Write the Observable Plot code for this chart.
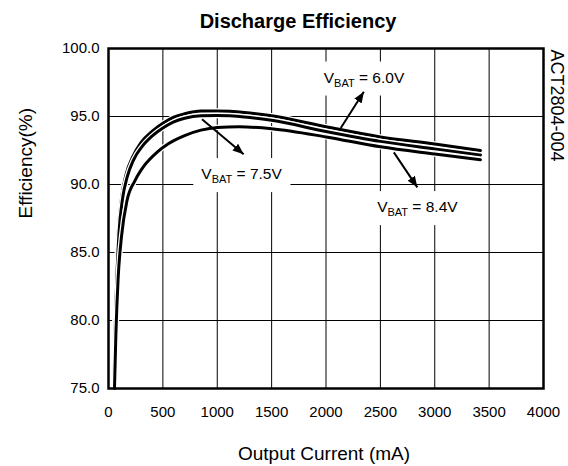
<!DOCTYPE html>
<html><head><meta charset="utf-8">
<script src="https://cdn.jsdelivr.net/npm/d3@7"></script>
<script src="https://cdn.jsdelivr.net/npm/@observablehq/plot@0.6"></script>
<style>body{margin:0;background:#fff;}</style>
</head><body><div id="chart"></div>
<script>
// ---- data ----
const title = "Discharge Efficiency";
const xLabel = "Output Current (mA)";
const yLabel = "Efficiency(%)";
const docId = "ACT2804-004";
const xTicks = [0, 500, 1000, 1500, 2000, 2500, 3000, 3500, 4000];
const yTicks = [75, 80, 85, 90, 95, 100];

const series = ["6.0V", "7.5V", "8.4V"];
const current60 = [45, 55, 70, 90, 120, 160, 220, 300, 400, 500, 600, 700, 850, 1000, 1250, 1500, 2000, 2500, 3000, 3420];
const eff60     = [75, 79, 83, 86.5, 89, 90.7, 92, 93.1, 93.9, 94.5, 94.95, 95.2, 95.4, 95.4, 95.3, 95.05, 94.25, 93.5, 92.98, 92.5];
const current75 = [50, 60, 76, 97, 130, 170, 230, 310, 400, 500, 600, 700, 850, 1000, 1250, 1500, 2000, 2500, 3000, 3420];
const eff75     = [75, 79, 83, 86.5, 89, 90.5, 91.8, 92.8, 93.55, 94.15, 94.6, 94.87, 95.05, 95.07, 94.97, 94.72, 93.9, 93.17, 92.62, 92.17];
const current84 = [55, 68, 88, 120, 170, 245, 330, 450, 550, 700, 850, 1000, 1200, 1500, 2000, 2500, 3000, 3420];
const eff84     = [75, 79, 83, 86.2, 88.8, 90.3, 91.4, 92.4, 93.0, 93.6, 94.0, 94.2, 94.25, 94.1, 93.5, 92.77, 92.24, 91.82];

// annotations
const labelNames = ["6.0V", "7.5V", "8.4V"];
const labelX = [2354, 1228, 2845];
const labelY = [97.86, 90.76, 88.33];
const arrowX1 = [2136, 860, 2624];
const arrowY1 = [94.15, 94.8, 92.36];
const arrowX2 = [2348, 1243, 2840];
const arrowY2 = [96.82, 92.23, 89.79];

// ---- build tables ----
const curves = [[current60, eff60], [current75, eff75], [current84, eff84]];
const rows = curves.map(([xs, ys], i) => xs.map((x, j) => ({series: series[i], x, y: ys[j]})));
const arrows = arrowX1.map((x1, i) => ({x1, y1: arrowY1[i], x2: arrowX2[i], y2: arrowY2[i]}));

const font = "'Liberation Sans', Arial, Helvetica, sans-serif";

const lineMarks = [];
rows.forEach(r => {
  lineMarks.push(Plot.line(r, {x: "x", y: "y", stroke: "white", strokeWidth: 5.5, curve: "monotone-x"}));
  lineMarks.push(Plot.line(r, {x: "x", y: "y", stroke: "black", strokeWidth: 3, curve: "monotone-x"}));
});

const plot = Plot.plot({
  width: 568, height: 466,
  marginLeft: 108, marginRight: 25, marginTop: 48, marginBottom: 78,
  style: {fontFamily: font, fontSize: "15px", color: "black", background: "white"},
  x: {domain: [0, 4000], ticks: xTicks, tickSize: 0, tickPadding: 18, label: null, tickFormat: d3.format("d")},
  y: {domain: [75, 100], ticks: yTicks, tickSize: 0, tickPadding: 9, label: null, tickFormat: d3.format(".1f")},
  marks: [
    Plot.ruleX(xTicks, {stroke: "black", strokeWidth: 1}),
    Plot.ruleY(yTicks, {stroke: "black", strokeWidth: 1}),
    ...lineMarks,
    Plot.link(arrows, {x1: "x1", y1: "y1", x2: "x2", y2: "y2", stroke: "black", strokeWidth: 2}),
    Plot.frame({stroke: "black", strokeWidth: 2.5}),
    Plot.text([title], {frameAnchor: "top", lineAnchor: "middle", dx: -28, dy: -27, fontWeight: "bold", fontSize: 20}),
    Plot.text([xLabel], {frameAnchor: "bottom", lineAnchor: "middle", dx: -2, dy: 65, fontSize: 19}),
    Plot.text([yLabel], {frameAnchor: "left", lineAnchor: "middle", dx: -83, rotate: -90, fontSize: 19}),
    Plot.text([docId], {frameAnchor: "top-right", lineAnchor: "middle", dx: 13, dy: 1, rotate: 90, textAnchor: "start", fontSize: 18})
  ]
});

document.getElementById("chart").appendChild(plot);

// ---- post: subscripted labels with white boxes, arrow heads ----
const svg = d3.select(plot);
const sx = plot.scale("x"), sy = plot.scale("y");

const defs = svg.insert("defs", ":first-child");
defs.append("marker").attr("id", "ahead").attr("viewBox", "0 0 10 8")
  .attr("refX", 10).attr("refY", 4).attr("markerWidth", 5.5).attr("markerHeight", 4.4)
  .attr("orient", "auto").attr("markerUnits", "strokeWidth")
  .append("path").attr("d", "M0,0L10,4L0,8Z").attr("fill", "black");
svg.selectAll('g[aria-label="link"] path').attr("marker-end", "url(#ahead)");

const boxG = document.createElementNS("http://www.w3.org/2000/svg", "g");
const firstLine = svg.select('g[aria-label="line"]').node();
firstLine.parentNode.insertBefore(boxG, firstLine);

const lg = svg.append("g").attr("font-family", font).attr("font-size", 15.5).attr("fill", "black");
labelNames.forEach((name, i) => {
  const t = lg.append("text")
    .attr("x", sx.apply(labelX[i])).attr("y", sy.apply(labelY[i]))
    .attr("text-anchor", "middle").attr("dy", "0.35em");
  t.append("tspan").text("V");
  t.append("tspan").attr("font-size", 11).attr("dy", 4).text("BAT");
  t.append("tspan").attr("dy", -4).text(" = " + name);
  const b = t.node().getBBox();
  d3.select(boxG).append("rect")
    .attr("x", b.x - 8).attr("y", b.y - 7).attr("width", b.width + 16).attr("height", b.height + 14)
    .attr("fill", "white");
});
</script>
</body></html>
